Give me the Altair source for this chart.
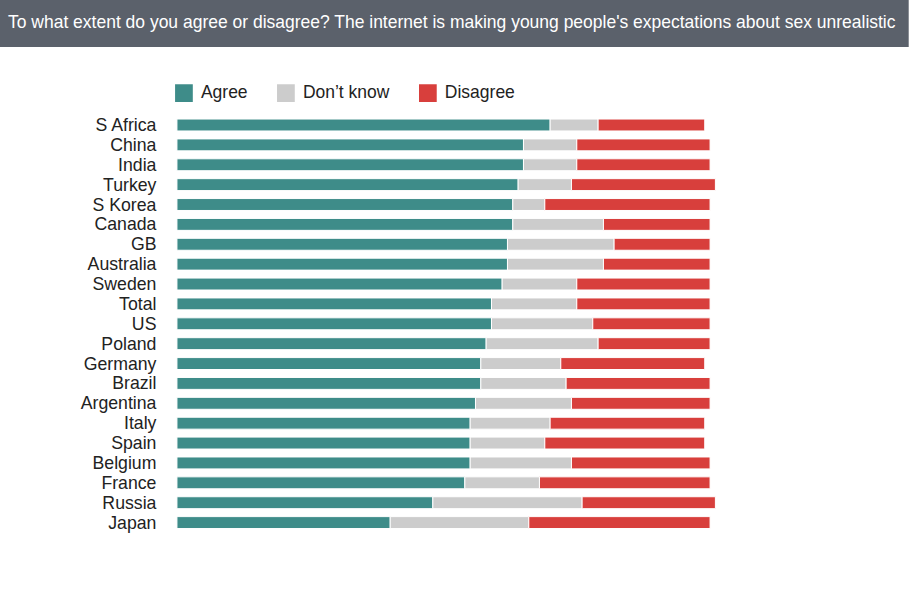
import altair as alt
import pandas as pd

countries = ["S Africa", "China", "India", "Turkey", "S Korea", "Canada", "GB",
             "Australia", "Sweden", "Total", "US", "Poland", "Germany", "Brazil",
             "Argentina", "Italy", "Spain", "Belgium", "France", "Russia", "Japan"]
agree = [70, 65, 65, 64, 63, 63, 62, 62, 61, 59, 59, 58, 57, 57, 56, 55, 55, 55, 54, 48, 40]
dont_know = [9, 10, 10, 10, 6, 17, 20, 18, 14, 16, 19, 21, 15, 16, 18, 15, 14, 19, 14, 28, 26]
disagree = [20, 25, 25, 27, 31, 20, 18, 20, 25, 25, 22, 21, 27, 27, 26, 29, 30, 26, 32, 25, 34]

responses = ["Agree", "Don\u2019t know", "Disagree"]
colors = ["#3e8c89", "#cccccc", "#d83f3c"]
title_text = ("To what extent do you agree or disagree? The internet is making "
              "young people's expectations about sex unrealistic")

rows = []
for i, c in enumerate(countries):
    for j, (resp, vals) in enumerate(zip(responses, [agree, dont_know, disagree])):
        rows.append({"country": c, "response": resp, "value": vals[i], "order": j})
df = pd.DataFrame(rows)

FONT = "Liberation Sans"

header = alt.Chart(alt.Data(values=[{"k": 1}])).mark_rect(
    color="#5b616b", strokeWidth=0
).encode(
    x=alt.value(-177), x2=alt.value(732),
    y=alt.value(-115), y2=alt.value(-68),
)

bars = alt.Chart(df).mark_bar(stroke="white", strokeWidth=1).encode(
    y=alt.Y("country:N", sort=countries, title=None,
            scale=alt.Scale(paddingInner=0.4, paddingOuter=0.2),
            axis=alt.Axis(ticks=False, domain=False, labelFontSize=17.7,
                          labelFont=FONT, labelColor="#222222", labelPadding=21,
                          labelOffset=1)),
    x=alt.X("value:Q", stack="zero", axis=None,
            scale=alt.Scale(domain=[0, 100], nice=False)),
    color=alt.Color("response:N",
                    scale=alt.Scale(domain=responses, range=colors),
                    legend=alt.Legend(orient="none", direction="horizontal",
                                      legendX=-2, legendY=-31, title=None,
                                      symbolType="square", symbolSize=315,
                                      symbolStrokeWidth=0, symbolOpacity=1,
                                      labelFontSize=17.5, labelFont=FONT,
                                      labelColor="#222222", labelOffset=8,
                                      columnPadding=29, padding=0)),
    order=alt.Order("order:Q"),
)

chart = alt.layer(header, bars).properties(
    width=533.3,
    height=417.6,
    title=alt.TitleParams(title_text, anchor="start", frame="group", orient="top",
                          dx=-169, dy=45, offset=0, baseline="alphabetic",
                          fontSize=17.5, font=FONT, fontWeight="normal",
                          color="white", zindex=1),
    autosize=alt.AutoSizeParams(type="none"),
    padding={"left": 177, "top": 115, "right": 199, "bottom": 57},
    background="white",
).configure_view(stroke=None)

chart.save("out.html", embed_options={"renderer": "svg", "actions": False})
